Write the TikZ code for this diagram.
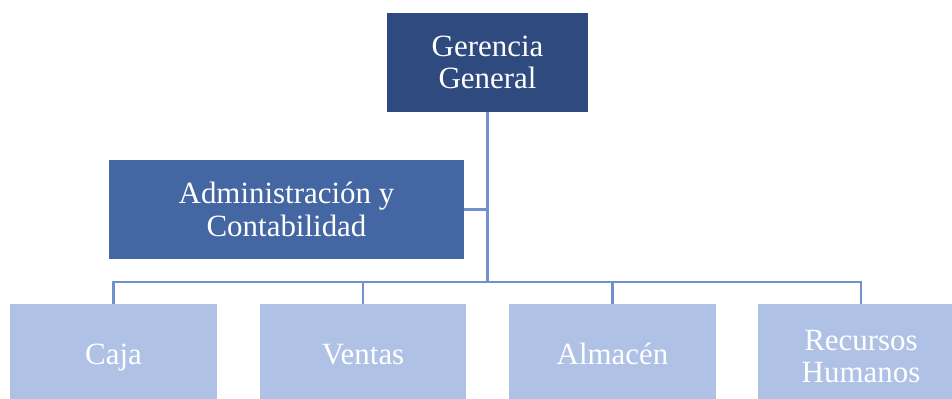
\documentclass[tikz,border=0pt]{standalone}
\usepackage{fontspec}
\setmainfont{Liberation Serif}
\definecolor{gerblue}{HTML}{2F4A7E}
\definecolor{admblue}{HTML}{4466A2}
\definecolor{areablue}{HTML}{AFC2E6}
\definecolor{linkblue}{HTML}{7090D2}
\tikzset{
  unitbox/.style={draw=none, text=white, align=center, inner sep=0pt,
    minimum height=2.475cm, font=\fontsize{22}{23}\selectfont},
  areabox/.style={unitbox, fill=areablue, minimum width=5.15cm},
  oneline/.style={minimum height=2.7cm,
    execute at begin node={\strut}, execute at end node={\strut}},
  link/.style={draw=linkblue, line width=1.6pt}
}
\begin{document}
\begin{tikzpicture}[x=0.025cm, y=-0.025cm]
\useasboundingbox (0,0) rectangle (952,399);
\node[unitbox, fill=gerblue, minimum width=5.025cm] (ger) at (487.5,62.5) {Gerencia\\General};
\node[unitbox, fill=admblue, minimum width=8.875cm] (adm) at (286.5,209.5) {Administración y\\Contabilidad};
\node[areabox, oneline] (caja) at (113.5,358) {Caja};
\node[areabox, oneline] (ven) at (363,358) {Ventas};
\node[areabox, oneline] (alm) at (612.5,358) {Almacén};
\node[areabox, minimum height=2.625cm] (rrhh) at (861,356.5) {Recursos\\Humanos};
\coordinate (bus) at (487.5,282);
\draw[link] (ger.south) -- (bus);
\draw[link] (adm.east) -- (adm.east -| ger.south);
\draw[link] (bus) -| (caja.north);
\draw[link] (bus) -| (ven.north);
\draw[link] (bus) -| (alm.north);
\draw[link] (bus) -| (rrhh.north);
\end{tikzpicture}
\end{document}
